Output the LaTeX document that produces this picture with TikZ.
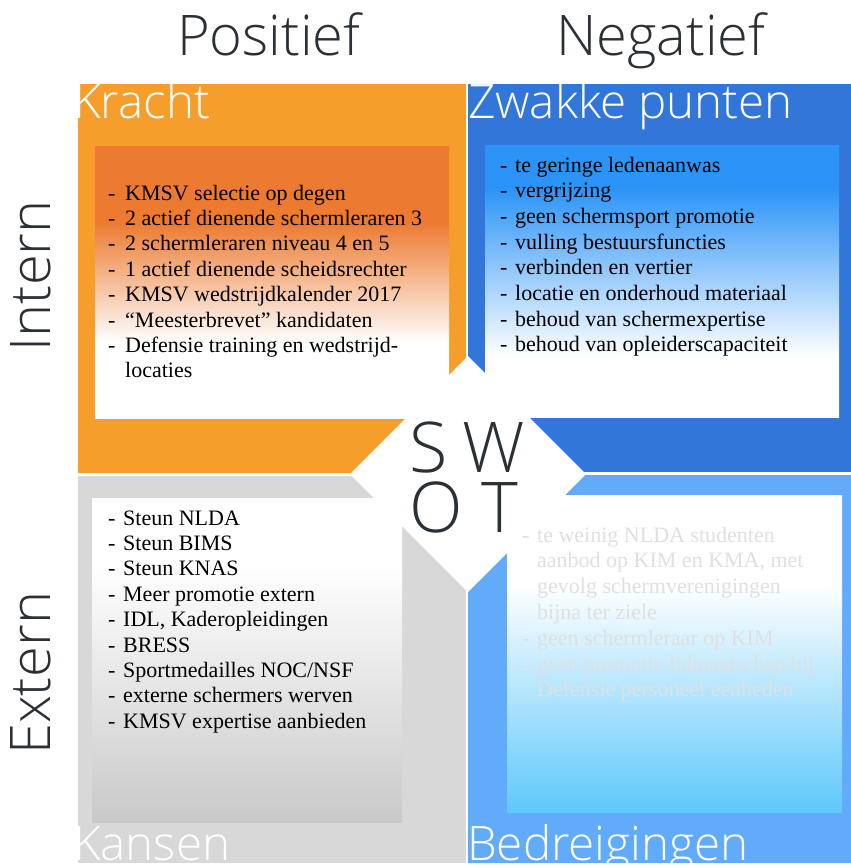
\documentclass[tikz,border=0pt]{standalone}
\usepackage{fontspec}
\setmainfont{Liberation Serif}
\IfFontExistsTF{Open Sans Light}{\newfontfamily\oslight{Open Sans Light}}{\newfontfamily\oslight{Open Sans}}
\definecolor{orgout}{RGB}{245,158,44}
\definecolor{orgbox}{RGB}{236,122,48}
\definecolor{blueout}{RGB}{50,118,218}
\definecolor{bluebox}{RGB}{44,148,247}
\definecolor{grayout}{RGB}{216,216,216}
\definecolor{graybox}{RGB}{201,201,201}
\definecolor{lblueout}{RGB}{98,170,250}
\definecolor{lbluebox}{RGB}{95,200,251}
\definecolor{headtxt}{RGB}{43,48,53}
\pgfdeclareverticalshading{tlshade}{100bp}{color(0bp)=(white); color(39bp)=(white); color(61bp)=(orgbox); color(100bp)=(orgbox)}
\pgfdeclareverticalshading{trshade}{100bp}{color(0bp)=(white); color(36bp)=(white); color(67bp)=(bluebox); color(100bp)=(bluebox)}
\pgfdeclareverticalshading{blshade}{100bp}{color(0bp)=(graybox); color(25bp)=(graybox); color(65bp)=(white); color(100bp)=(white)}
\pgfdeclareverticalshading{brshade}{100bp}{color(0bp)=(lbluebox); color(25bp)=(lbluebox); color(61bp)=(white); color(100bp)=(white)}
\newlength\dashw
\newcommand\dashitem[1]{\makebox[\dashw][l]{-}#1}
\newcommand\contline[1]{\hspace*{\dashw}#1}
\tikzset{
  header/.style={font=\oslight\fontsize{56}{60}\selectfont, text=headtxt, inner sep=0pt},
  qlabel/.style={font=\oslight\fontsize{47.5}{50}\selectfont, text=white, inner sep=0pt, anchor=base west},
  swotletter/.style={font=\oslight\fontsize{70}{74}\selectfont, text=headtxt, inner sep=0pt, anchor=base west},
  listtext/.style={inner sep=0pt, anchor=base west},
}
\begin{document}
\begin{tikzpicture}[x=1pt,y=1pt]
\useasboundingbox (0,0) rectangle (851,-865);
\fill[white] (0,0) rectangle (851,-865);
% outer quadrants
\fill[orgout] (78,-84) rectangle (466,-473);
\fill[blueout] (468,-84) rectangle (851,-472);
\fill[grayout] (78,-476) rectangle (466,-863);
\fill[lblueout] (468,-475) rectangle (851,-863);
% quadrant labels
\begin{scope}
\clip (78,-84) rectangle (466,-473);
\node[qlabel] (kracht) at (73,-118) {Kracht};
\end{scope}
\begin{scope}
\clip (468,-84) rectangle (851,-472);
\node[qlabel] (zwak) at (468,-118) {Zwakke punten};
\end{scope}
\begin{scope}
\clip (78,-476) rectangle (466,-863);
\node[qlabel] (kansen) at (73,-860) {Kansen};
\end{scope}
\begin{scope}
\clip (468,-475) rectangle (851,-863);
\node[qlabel] (bedr) at (467,-860) {Bedreigingen};
\end{scope}
% inner boxes
\shade[shading=tlshade] (95,-146) rectangle (449,-418);
\shade[shading=trshade] (485,-145) rectangle (839,-417);
\shade[shading=blshade] (92,-498) rectangle (402,-822);
\shade[shading=brshade] (507,-495) rectangle (842,-812);
% central diamond
\fill[white] (468,-356) -- (586,-474) -- (468,-592) -- (350,-474) -- cycle;
% headers
\node[header, anchor=base west] (pos) at (177,-55) {Positief};
\node[header, anchor=base west] (neg) at (556,-55) {Negatief};
\node[header, anchor=base west, rotate=90] (intern) at (50,-352) {Intern};
\node[header, anchor=base west, rotate=90] (extern) at (50,-755) {Extern};
% SWOT
\node[swotletter] (s) at (409,-472) {S};
\node[swotletter] (w) at (462,-472) {W};
\node[swotletter] (o) at (409,-532) {O};
\node[swotletter] (t) at (481,-532) {T};
% lists
\node[listtext] (krachtlist) at (108,-200) {\setlength\dashw{17pt}\parbox[t]{360pt}{\fontsize{22}{25.4}\selectfont
\dashitem{KMSV selectie op degen}\\
\dashitem{2 actief dienende schermleraren 3}\\
\dashitem{2 schermleraren niveau 4 en 5}\\
\dashitem{1 actief dienende scheidsrechter}\\
\dashitem{KMSV wedstrijdkalender 2017}\\
\dashitem{“Meesterbrevet” kandidaten}\\
\dashitem{Defensie training en wedstrijd-}\\
\contline{locaties}}};
\node[listtext] (zwaklist) at (500,-172) {\setlength\dashw{15pt}\parbox[t]{360pt}{\fontsize{22}{25.7}\selectfont
\dashitem{te geringe ledenaanwas}\\
\dashitem{vergrijzing}\\
\dashitem{geen schermsport promotie}\\
\dashitem{vulling bestuursfuncties}\\
\dashitem{verbinden en vertier}\\
\dashitem{locatie en onderhoud materiaal}\\
\dashitem{behoud van schermexpertise}\\
\dashitem{behoud van opleiderscapaciteit}}};
\node[listtext] (kansenlist) at (108,-525) {\setlength\dashw{15pt}\parbox[t]{360pt}{\fontsize{22}{25.4}\selectfont
\dashitem{Steun NLDA}\\
\dashitem{Steun BIMS}\\
\dashitem{Steun KNAS}\\
\dashitem{Meer promotie extern}\\
\dashitem{IDL, Kaderopleidingen}\\
\dashitem{BRESS}\\
\dashitem{Sportmedailles NOC/NSF}\\
\dashitem{externe schermers werven}\\
\dashitem{KMSV expertise aanbieden}}};
\node[listtext, text=black!12] (bedrlist) at (522,-542) {\setlength\dashw{15pt}\parbox[t]{360pt}{\fontsize{22}{25.8}\selectfont
\dashitem{te weinig NLDA studenten}\\
\contline{aanbod op KIM en KMA, met}\\
\contline{gevolg schermverenigingen}\\
\contline{bijna ter ziele}\\
\dashitem{geen schermleraar op KIM}\\
\dashitem{geen promotie lidmaatschap bij}\\
\contline{Defensie personeel eenheden}}};
\end{tikzpicture}
\end{document}
